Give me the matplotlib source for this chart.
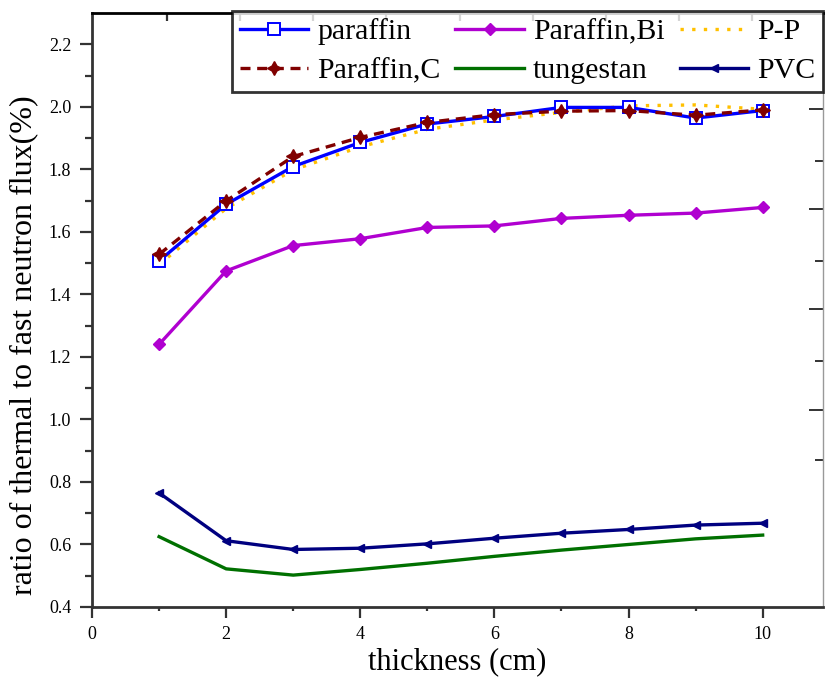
import numpy as np
import matplotlib
matplotlib.use("Agg")
import matplotlib.pyplot as plt

plt.rcParams["font.family"] = ["Liberation Serif", "DejaVu Serif"]

# thickness (cm)
thickness = [1, 2, 3, 4, 5, 6, 7, 8, 9, 10]

# ratio of thermal to fast neutron flux (%)
paraffin = [1.507, 1.688, 1.809, 1.886, 1.945, 1.969, 1.998, 1.998, 1.964, 1.988]
paraffin_c = [1.528, 1.699, 1.841, 1.902, 1.950, 1.975, 1.986, 1.988, 1.973, 1.990]
paraffin_bi = [1.240, 1.475, 1.556, 1.578, 1.614, 1.619, 1.643, 1.653, 1.660, 1.678]
p_p = [1.495, 1.675, 1.798, 1.872, 1.928, 1.958, 1.982, 2.003, 2.006, 1.992]
tungestan = [0.625, 0.522, 0.502, 0.520, 0.540, 0.562, 0.582, 0.600, 0.618, 0.630]
pvc = [0.765, 0.612, 0.584, 0.588, 0.602, 0.620, 0.636, 0.648, 0.662, 0.668]

fig = plt.figure(figsize=(8.26, 6.77), dpi=100)
ax = fig.add_axes([0.1114, 0.1034, 0.885, 0.8774])

l1, = ax.plot(thickness, paraffin, color="#0000FF", lw=2.4, marker="s",
              ms=9, mfc="white", mec="#0000FF", mew=1.4, label="paraffin")
l4, = ax.plot(thickness, p_p, color="#FFC000", lw=2.4, ls=(0, (1, 2.5)),
              label="P-P", zorder=1.5)
l2, = ax.plot(thickness, paraffin_c, color="#800000", lw=2.4, ls=(0, (3, 2)),
              marker=(4, 1, 0), ms=10, label="Paraffin,C")
l3, = ax.plot(thickness, paraffin_bi, color="#B000D0", lw=2.4, marker="D",
              ms=6.5, label="Paraffin,Bi")
l5, = ax.plot(thickness, tungestan, color="#007000", lw=2.4, label="tungestan")
l6, = ax.plot(thickness, pvc, color="#000080", lw=2.4, marker="<",
              ms=6, label="PVC")

ax.set_xlim(0, 10.9)
ax.set_ylim(0.4, 2.3)
ax.set_xticks([0, 2, 4, 6, 8, 10])
ax.set_xticks([1, 3, 5, 7, 9], minor=True)
ax.set_yticks(np.arange(0.4, 2.21, 0.2))
ax.set_yticks(np.arange(0.5, 2.3, 0.2), minor=True)
ax.yaxis.set_major_formatter(plt.FormatStrFormatter("%.1f"))

ax.tick_params(axis="both", which="both", direction="out", labelsize=13,
               width=1.6, color="#333333", top=False, right=False, pad=6)
ax.tick_params(axis="y", which="major", length=9)
ax.tick_params(axis="y", which="minor", length=5)
ax.tick_params(axis="x", which="major", length=8)
ax.tick_params(axis="x", which="minor", length=3)

for side in ["left", "bottom"]:
    ax.spines[side].set_linewidth(2)
    ax.spines[side].set_color("#333333")
ax.spines["top"].set_linewidth(2)
ax.spines["top"].set_color("black")
ax.spines["right"].set_linewidth(1)
ax.spines["right"].set_color("#999999")

# stray ticks of the top and right axes
top = ax.secondary_xaxis("top")
top.set_xticks(np.arange(1.12, 10.8, 1.09))
top.set_xticklabels([])
top.tick_params(direction="in", length=6, width=1.6, color="#333333")
top.spines["top"].set_visible(False)

right = ax.secondary_yaxis("right")
right.set_yticks([1.993, 1.672, 1.352, 1.031])
right.set_yticks([1.826, 1.506, 1.188, 0.871], minor=True)
right.set_yticklabels([])
right.tick_params(which="major", direction="in", length=10, width=1.4, color="#333333")
right.tick_params(which="minor", direction="in", length=6, width=1.4, color="#333333")
right.spines["right"].set_visible(False)

ax.set_xlabel("thickness (cm)", fontsize=22, labelpad=3)
ax.set_ylabel("ratio of thermal to fast neutron flux(%)", fontsize=23)
ax.yaxis.set_label_coords(-0.074, 0.441)

handles = [l1, l2, l3, l5, l4, l6]
leg = ax.legend(handles=handles, ncol=3, fontsize=21.5, loc="upper right",
                bbox_to_anchor=(823 / 826, 1 - 11 / 677),
                bbox_transform=fig.transFigure, frameon=True, fancybox=False,
                handlelength=2.3, handletextpad=0.3, columnspacing=0.5,
                borderpad=0.25, labelspacing=0.4, borderaxespad=0)
leg.get_frame().set_edgecolor("black")
leg.get_frame().set_linewidth(2)
leg.set_zorder(5)

fig.savefig("out.png", dpi=100)
